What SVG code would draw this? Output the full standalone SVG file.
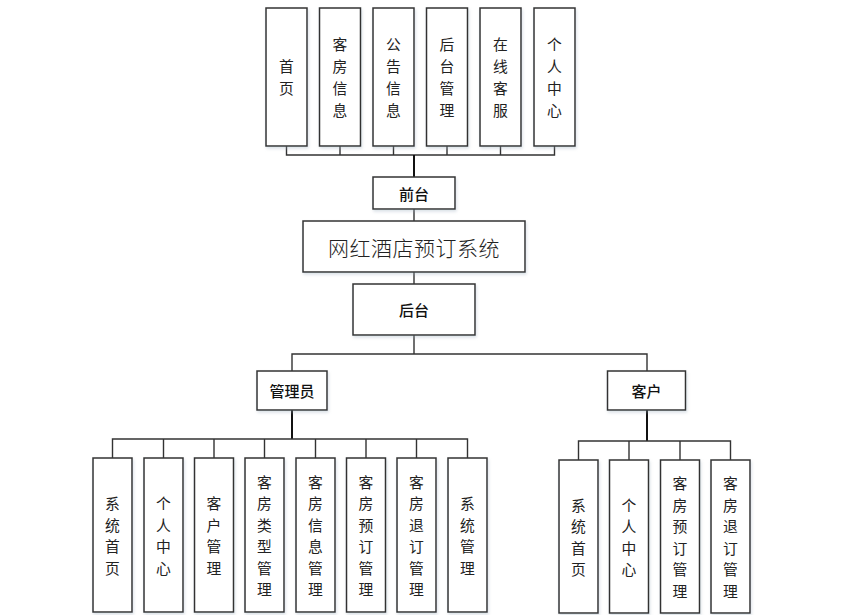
<svg xmlns="http://www.w3.org/2000/svg" width="842" height="615" viewBox="0 0 842 615">
<defs>
<style>
.box{fill:#fff;stroke:#333;stroke-width:1.5}
.line{fill:none;stroke:#333;stroke-width:1.4}
.trunk{fill:none;stroke:#111;stroke-width:2}
.v{font-family:"Noto Sans CJK SC","Noto Sans",sans-serif;font-size:14.8px;font-weight:400;fill:#222;text-anchor:middle}
.b{font-family:"Noto Sans CJK SC","Noto Sans",sans-serif;font-size:15px;font-weight:500;fill:#111;text-anchor:middle;dominant-baseline:central}
.t{font-family:"Noto Sans CJK SC","Noto Sans",sans-serif;font-size:21px;font-weight:300;fill:#222;text-anchor:middle;dominant-baseline:central;letter-spacing:0.5px}
</style>
<filter id="sh" x="-20%" y="-20%" width="140%" height="140%">
<feDropShadow dx="1" dy="2" stdDeviation="1.5" flood-color="#9ab" flood-opacity="0.35"/>
</filter>
</defs>
<rect width="842" height="615" fill="#fff"/>

<g id="connectors">
<path class="line" d="M286.5 146V155H554.5V146M340 146V155M393.5 146V155M447 146V155M500.5 146V155"/>
<path class="trunk" d="M414 155V177"/>
<path class="line" d="M414 209V221M414 272V284"/>
<path class="line" d="M414 335V354M292 371V354H647V371"/>
<path class="trunk" d="M292 410V439"/>
<path class="line" d="M112.5 458V439H467.5V458M163.5 439V458M214 439V458M264.5 439V458M315.5 439V458M366 439V458M416.5 439V458"/>
<path class="trunk" d="M647 410V441"/>
<path class="line" d="M578.5 460V441H730.5V460M629 441V460M680 441V460"/>
</g>

<g id="n-shouye"><rect class="box" x="266" y="8" width="41" height="138" filter="url(#sh)"/><text class="v" x="286.5"><tspan x="286.5" y="72">首</tspan><tspan x="286.5" y="94">页</tspan></text></g>
<g id="n-kefangxinxi"><rect class="box" x="319.5" y="8" width="41" height="138" filter="url(#sh)"/><text class="v"><tspan x="340" y="50">客</tspan><tspan x="340" y="72">房</tspan><tspan x="340" y="94">信</tspan><tspan x="340" y="116">息</tspan></text></g>
<g id="n-gonggao"><rect class="box" x="373" y="8" width="41" height="138" filter="url(#sh)"/><text class="v"><tspan x="393.5" y="50">公</tspan><tspan x="393.5" y="72">告</tspan><tspan x="393.5" y="94">信</tspan><tspan x="393.5" y="116">息</tspan></text></g>
<g id="n-houtaiguanli"><rect class="box" x="426.5" y="8" width="41" height="138" filter="url(#sh)"/><text class="v"><tspan x="447" y="50">后</tspan><tspan x="447" y="72">台</tspan><tspan x="447" y="94">管</tspan><tspan x="447" y="116">理</tspan></text></g>
<g id="n-zaixian"><rect class="box" x="480" y="8" width="41" height="138" filter="url(#sh)"/><text class="v"><tspan x="500.5" y="50">在</tspan><tspan x="500.5" y="72">线</tspan><tspan x="500.5" y="94">客</tspan><tspan x="500.5" y="116">服</tspan></text></g>
<g id="n-geren-top"><rect class="box" x="534" y="8" width="41" height="138" filter="url(#sh)"/><text class="v"><tspan x="554.5" y="50">个</tspan><tspan x="554.5" y="72">人</tspan><tspan x="554.5" y="94">中</tspan><tspan x="554.5" y="116">心</tspan></text></g>

<g id="n-qiantai"><rect class="box" x="373" y="177" width="82" height="32" filter="url(#sh)"/><text class="b" x="414" y="193">前台</text></g>
<g id="n-system"><rect class="box" x="303" y="221" width="222" height="51" filter="url(#sh)"/><text class="t" x="414" y="246.5">网红酒店预订系统</text></g>
<g id="n-houtai"><rect class="box" x="353" y="284" width="122" height="51" filter="url(#sh)"/><text class="b" x="414" y="309.5">后台</text></g>

<g id="n-admin"><rect class="box" x="257" y="371" width="70" height="39" filter="url(#sh)"/><text class="b" x="292" y="390.5">管理员</text></g>
<g id="n-customer"><rect class="box" x="607.5" y="371" width="78" height="39" filter="url(#sh)"/><text class="b" x="646.5" y="390.5">客户</text></g>

<g id="a-xitongshouye"><rect class="box" x="93" y="458" width="39" height="154" filter="url(#sh)"/><text class="v"><tspan x="112.5" y="509">系</tspan><tspan x="112.5" y="530.5">统</tspan><tspan x="112.5" y="552">首</tspan><tspan x="112.5" y="573.5">页</tspan></text></g>
<g id="a-geren"><rect class="box" x="144" y="458" width="39" height="154" filter="url(#sh)"/><text class="v"><tspan x="163.5" y="509">个</tspan><tspan x="163.5" y="530.5">人</tspan><tspan x="163.5" y="552">中</tspan><tspan x="163.5" y="573.5">心</tspan></text></g>
<g id="a-kehuguanli"><rect class="box" x="194.5" y="458" width="39" height="154" filter="url(#sh)"/><text class="v"><tspan x="214" y="509">客</tspan><tspan x="214" y="530.5">户</tspan><tspan x="214" y="552">管</tspan><tspan x="214" y="573.5">理</tspan></text></g>
<g id="a-kefangleixing"><rect class="box" x="245" y="458" width="39" height="154" filter="url(#sh)"/><text class="v"><tspan x="264.5" y="487.5">客</tspan><tspan x="264.5" y="509">房</tspan><tspan x="264.5" y="530.5">类</tspan><tspan x="264.5" y="552">型</tspan><tspan x="264.5" y="573.5">管</tspan><tspan x="264.5" y="595">理</tspan></text></g>
<g id="a-kefangxinxi"><rect class="box" x="296" y="458" width="39" height="154" filter="url(#sh)"/><text class="v"><tspan x="315.5" y="487.5">客</tspan><tspan x="315.5" y="509">房</tspan><tspan x="315.5" y="530.5">信</tspan><tspan x="315.5" y="552">息</tspan><tspan x="315.5" y="573.5">管</tspan><tspan x="315.5" y="595">理</tspan></text></g>
<g id="a-kefangyuding"><rect class="box" x="346.5" y="458" width="39" height="154" filter="url(#sh)"/><text class="v"><tspan x="366" y="487.5">客</tspan><tspan x="366" y="509">房</tspan><tspan x="366" y="530.5">预</tspan><tspan x="366" y="552">订</tspan><tspan x="366" y="573.5">管</tspan><tspan x="366" y="595">理</tspan></text></g>
<g id="a-kefangtuiding"><rect class="box" x="397" y="458" width="39" height="154" filter="url(#sh)"/><text class="v"><tspan x="416.5" y="487.5">客</tspan><tspan x="416.5" y="509">房</tspan><tspan x="416.5" y="530.5">退</tspan><tspan x="416.5" y="552">订</tspan><tspan x="416.5" y="573.5">管</tspan><tspan x="416.5" y="595">理</tspan></text></g>
<g id="a-xitongguanli"><rect class="box" x="448" y="458" width="39" height="154" filter="url(#sh)"/><text class="v"><tspan x="467.5" y="509">系</tspan><tspan x="467.5" y="530.5">统</tspan><tspan x="467.5" y="552">管</tspan><tspan x="467.5" y="573.5">理</tspan></text></g>

<g id="c-xitongshouye"><rect class="box" x="559" y="460" width="39" height="153" filter="url(#sh)"/><text class="v"><tspan x="578.5" y="510.5">系</tspan><tspan x="578.5" y="532">统</tspan><tspan x="578.5" y="553.5">首</tspan><tspan x="578.5" y="575">页</tspan></text></g>
<g id="c-geren"><rect class="box" x="609.5" y="460" width="39" height="153" filter="url(#sh)"/><text class="v"><tspan x="629" y="510.5">个</tspan><tspan x="629" y="532">人</tspan><tspan x="629" y="553.5">中</tspan><tspan x="629" y="575">心</tspan></text></g>
<g id="c-kefangyuding"><rect class="box" x="660.5" y="460" width="39" height="153" filter="url(#sh)"/><text class="v"><tspan x="680" y="489">客</tspan><tspan x="680" y="510.5">房</tspan><tspan x="680" y="532">预</tspan><tspan x="680" y="553.5">订</tspan><tspan x="680" y="575">管</tspan><tspan x="680" y="596.5">理</tspan></text></g>
<g id="c-kefangtuiding"><rect class="box" x="711" y="460" width="39" height="153" filter="url(#sh)"/><text class="v"><tspan x="730.5" y="489">客</tspan><tspan x="730.5" y="510.5">房</tspan><tspan x="730.5" y="532">退</tspan><tspan x="730.5" y="553.5">订</tspan><tspan x="730.5" y="575">管</tspan><tspan x="730.5" y="596.5">理</tspan></text></g>
</svg>
